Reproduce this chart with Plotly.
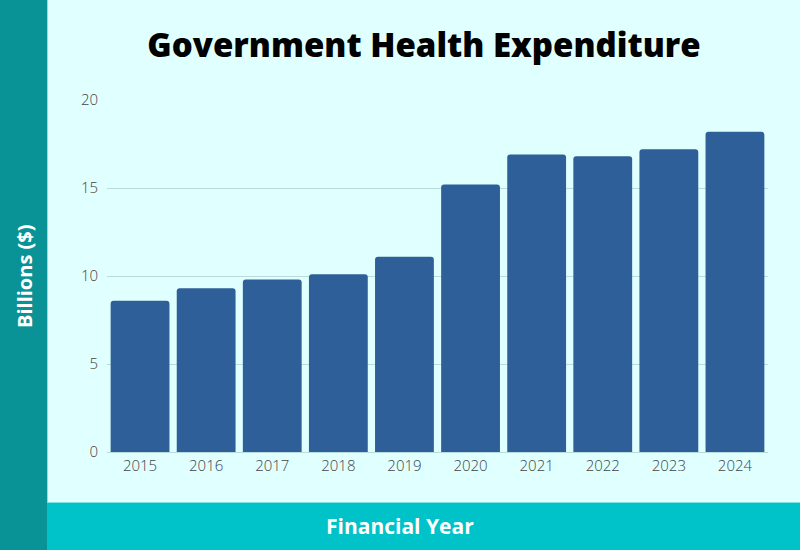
import plotly.graph_objects as go

years = ["2015", "2016", "2017", "2018", "2019", "2020", "2021", "2022", "2023", "2024"]
spending = [8.6, 9.3, 9.8, 10.1, 11.1, 15.2, 16.9, 16.8, 17.2, 18.2]
y_ticks = [0, 5, 10, 15, 20]

W, H = 800, 550
L, R, T, B = 107, 32, 100, 98
pw, ph = W - L - R, H - T - B

def px_x(p):
    return (p - L) / pw

def px_y(p):
    return (H - B - p) / ph

fig = go.Figure(go.Bar(
    x=years, y=spending,
    marker=dict(color="#2e5f99", cornerradius=3, line=dict(width=0)),
    width=0.89,
    hoverinfo="x+y",
))

bg = "#e0ffff"
tickfont = dict(family="Open Sans", size=15, color="#444444", weight=300)
fig.update_layout(
    width=W, height=H,
    margin=dict(l=L, r=R, t=T, b=B),
    paper_bgcolor=bg, plot_bgcolor=bg,
    showlegend=False,
    title=dict(text="Government Health Expenditure", x=424 / W, xanchor="center",
               y=1 - 45 / H, yanchor="middle",
               font=dict(family="Open Sans", size=33, color="#000000", weight=800)),
    font=dict(family="Open Sans"),
)
fig.update_xaxes(showgrid=False, showline=True, linecolor="#b8dcdc", linewidth=1,
                 ticks="", tickfont=tickfont)
fig.update_yaxes(range=[0, 20], tickvals=y_ticks, showgrid=True, gridcolor="#b8dcdc",
                 gridwidth=1, zeroline=False, ticks="", ticklabelstandoff=8,
                 tickfont=tickfont)

shapes = [
    dict(type="rect", xref="paper", yref="paper", x0=px_x(47), x1=px_x(W), y0=px_y(H), y1=px_y(502),
         fillcolor="#00c2c9", line=dict(width=0), layer="above"),
    dict(type="line", xref="paper", yref="paper", x0=px_x(47), x1=px_x(W), y0=px_y(502.5), y1=px_y(502.5),
         line=dict(color="#7fe3e6", width=1)),
    dict(type="rect", xref="paper", yref="paper", x0=px_x(0), x1=px_x(47), y0=px_y(H), y1=px_y(0),
         fillcolor="#0a9396", line=dict(width=0), layer="above"),
    dict(type="line", xref="paper", yref="paper", x0=px_x(47.5), x1=px_x(47.5), y0=px_y(502), y1=px_y(0),
         line=dict(color="#7fe3e6", width=1)),
]
fig.update_layout(shapes=shapes)

fig.add_annotation(text="<b>Billions ($)</b>", xref="paper", yref="paper", x=px_x(24), y=px_y(276),
                   showarrow=False, textangle=-90, xanchor="center", yanchor="middle",
                   font=dict(family="Open Sans", size=20, color="white"))
fig.add_annotation(text="<b>Financial Year</b>", xref="paper", yref="paper", x=px_x(400), y=px_y(526),
                   showarrow=False, xanchor="center", yanchor="middle",
                   font=dict(family="Open Sans", size=21, color="white"))

fig.write_html("out.html")
